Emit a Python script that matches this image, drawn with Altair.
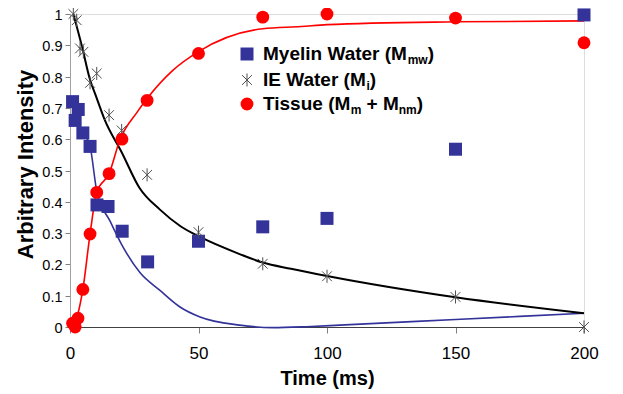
import altair as alt
import pandas as pd

# ---------------- data ----------------
# Myelin water (squares)
mw_t = [1.0, 3.2, 2.0, 5.0, 7.8, 10.5, 14.8, 20.3, 30.2, 50, 75, 100, 150, 200]
mw_v = [0.72, 0.695, 0.66, 0.62, 0.577, 0.39, 0.385, 0.306, 0.208, 0.274, 0.32, 0.347, 0.568, 0.997]
# IE water (asterisks)
ie_t = [1.3, 2.6, 3.9, 5.2, 7.8, 10.4, 15.2, 20.1, 30, 50, 75, 100, 150, 200]
ie_v = [1.0, 0.98, 0.89, 0.879, 0.78, 0.81, 0.677, 0.628, 0.486, 0.303, 0.202, 0.162, 0.096, 0.0]
# Tissue (circles)
ti_t = [1.0, 2.0, 3.1, 5.0, 7.8, 10.4, 15.2, 20.2, 30, 50, 75, 100, 150, 200]
ti_v = [0.012, 0.0, 0.028, 0.12, 0.297, 0.43, 0.49, 0.6, 0.724, 0.874, 0.99, 1.0, 0.987, 0.908]

# fitted curves
iefit_t = [1.3, 4.7, 7.8, 10, 13.6, 20, 27, 35, 43, 50, 66, 75, 86, 100, 150, 200]
iefit_v = [1.0, 0.895, 0.79, 0.74, 0.66, 0.56, 0.445, 0.375, 0.322, 0.29, 0.233, 0.206, 0.186, 0.163, 0.095, 0.044]
mwfit_t = [5, 7.8, 10.5, 15.6, 20, 27.2, 35, 42.8, 50.6, 66, 79, 92, 105, 150, 200]
mwfit_v = [0.62, 0.577, 0.43, 0.338, 0.265, 0.174, 0.117, 0.064, 0.032, 0.006, -0.002, 0.001, 0.006, 0.024, 0.044]
tifit_t = [1, 3, 5, 7.8, 10.4, 15.2, 19.5, 26, 30, 40, 50, 75, 90, 100, 150, 200]
tifit_v = [0.0, 0.04, 0.12, 0.297, 0.43, 0.49, 0.6, 0.685, 0.73, 0.82, 0.88, 0.953, 0.96, 0.966, 0.975, 0.978]

x_ticks = [0, 50, 100, 150, 200]
y_ticks = [0, 0.1, 0.2, 0.3, 0.4, 0.5, 0.6, 0.7, 0.8, 0.9, 1.0]

legend_rows = [
    [("Myelin Water (M", False), ("mw", True), (")", False)],
    [("IE Water (M", False), ("i", True), (")", False)],
    [("Tissue (M", False), ("m", True), (" + M", False), ("nm", True), (")", False)],
]

# ---------------- styling ----------------
BLUE = "#333399"
RED = "#ff0000"
FONT = "Liberation Sans"
ASTER = "M-0.75,-0.75L0.75,0.75M-0.75,0.75L0.75,-0.75M0,-1L0,1"

TOP = 6
W, H = 514, 313


def frame(t, v):
    return pd.DataFrame({"t": t, "v": v})


x_enc = alt.X(
    "t:Q",
    scale=alt.Scale(domain=[0, 200], nice=False, zero=False),
    axis=alt.Axis(
        values=x_ticks, grid=False, labelFontSize=17, labelColor="#000",
        tickColor="#808080", tickSize=6, domainColor="#404040",
        labelPadding=12, labelFlush=False,
        titleFontSize=20, titleFontWeight="bold", titleColor="#000",
        titleY=57, titleBaseline="alphabetic",
    ),
    title="Time (ms)",
)
y_enc = alt.Y(
    "v:Q",
    scale=alt.Scale(domain=[0, 1], nice=False, zero=False),
    axis=alt.Axis(
        values=y_ticks, format=".1~f", grid=False, labelFontSize=14.5,
        labelColor="#000", tickColor="#808080", tickSize=5,
        domainColor="#a0a0a0", labelPadding=3, labelFlush=False,
        labelOffset=1.5,
        titleFontSize=22, titleFontWeight="bold", titleColor="#000",
        titleX=-38, titleY=150, titleAngle=270, titleBaseline="alphabetic",
        titleAlign="center",
    ),
    title="Arbitrary Intensity",
)

mw_line = alt.Chart(frame(mwfit_t, mwfit_v)).mark_line(
    color=BLUE, strokeWidth=1.6, interpolate="monotone").encode(x=x_enc, y=y_enc)
ie_line = alt.Chart(frame(iefit_t, iefit_v)).mark_line(
    color="#000", strokeWidth=2, interpolate="monotone").encode(x=x_enc, y=y_enc)
ti_line = alt.Chart(frame(tifit_t, tifit_v)).mark_line(
    color=RED, strokeWidth=1.6, interpolate="monotone").encode(x=x_enc, y=y_enc)

mw_pts = alt.Chart(frame(mw_t, mw_v)).mark_square(
    size=169, color=BLUE, opacity=1).encode(x=x_enc, y=y_enc)
ie_pts = alt.Chart(frame(ie_t, ie_v)).mark_point(
    shape=ASTER, size=170, filled=False, stroke="#505050", strokeWidth=1, opacity=1
).encode(x=x_enc, y=y_enc)
ti_pts = alt.Chart(frame(ti_t, ti_v)).mark_circle(
    size=165, color=RED, opacity=1).encode(x=x_enc, y=y_enc)

# ---------------- custom legend (with subscripts) ----------------
ARIAL_BOLD = {
    "M": 833, "y": 556, "e": 556, "l": 278, "i": 278, "n": 611, " ": 278,
    "W": 944, "a": 556, "t": 333, "r": 389, "(": 333, ")": 333, "m": 889,
    "w": 778, "I": 278, "E": 667, "T": 611, "s": 556, "u": 611, "+": 584,
}


def tw(s, size):
    return sum(ARIAL_BOLD.get(c, 556) for c in s) * size / 1000.0


one = alt.InlineData(values=[{"k": 0}])
MAIN_FS, SUB_FS = 19, 12
sym_x, text_x = 177, 193
# page positions of the legend rows, converted to plot coordinates
row_sym_y = [54 - 8 - TOP, 80 - 8 - TOP, 104 - 8 - TOP]
row_base_y = [60 - 8 - TOP, 86 - 8 - TOP, 110 - 8 - TOP]

legend_layers = []
legend_layers.append(alt.Chart(one).mark_square(size=169, color=BLUE, opacity=1).encode(
    x=alt.value(sym_x), y=alt.value(row_sym_y[0])))
legend_layers.append(alt.Chart(one).mark_point(
    shape=ASTER, size=170, filled=False, stroke="#505050", strokeWidth=1, opacity=1
).encode(x=alt.value(sym_x), y=alt.value(row_sym_y[1])))
legend_layers.append(alt.Chart(one).mark_circle(size=165, color=RED, opacity=1).encode(
    x=alt.value(sym_x), y=alt.value(row_sym_y[2])))

for r, pieces in enumerate(legend_rows):
    cx = text_x
    for txt, sub in pieces:
        fs = SUB_FS if sub else MAIN_FS
        stripped = txt.lstrip(" ")
        cx += tw(txt[: len(txt) - len(stripped)], fs)
        yy = row_base_y[r] + (4 if sub else 0)
        legend_layers.append(alt.Chart(one).mark_text(
            align="left", baseline="alphabetic", font=FONT, fontWeight="bold",
            fontSize=fs, color="#000",
        ).encode(x=alt.value(cx), y=alt.value(yy), text=alt.value(stripped)))
        cx += tw(stripped, fs)

chart = alt.layer(
    mw_line, ie_line, ti_line, mw_pts, ie_pts, ti_pts, *legend_layers
).properties(
    width=W, height=H,
    autosize=alt.AutoSizeParams(type="none"),
    padding={"left": 62, "top": TOP, "right": 31, "bottom": 62},
).configure_view(
    stroke="#c0c0c0", strokeWidth=1
).configure_axis(
    labelFont=FONT, titleFont=FONT
).configure(background="white")

chart.save("out.html", embed_options={"renderer": "svg", "actions": False})
